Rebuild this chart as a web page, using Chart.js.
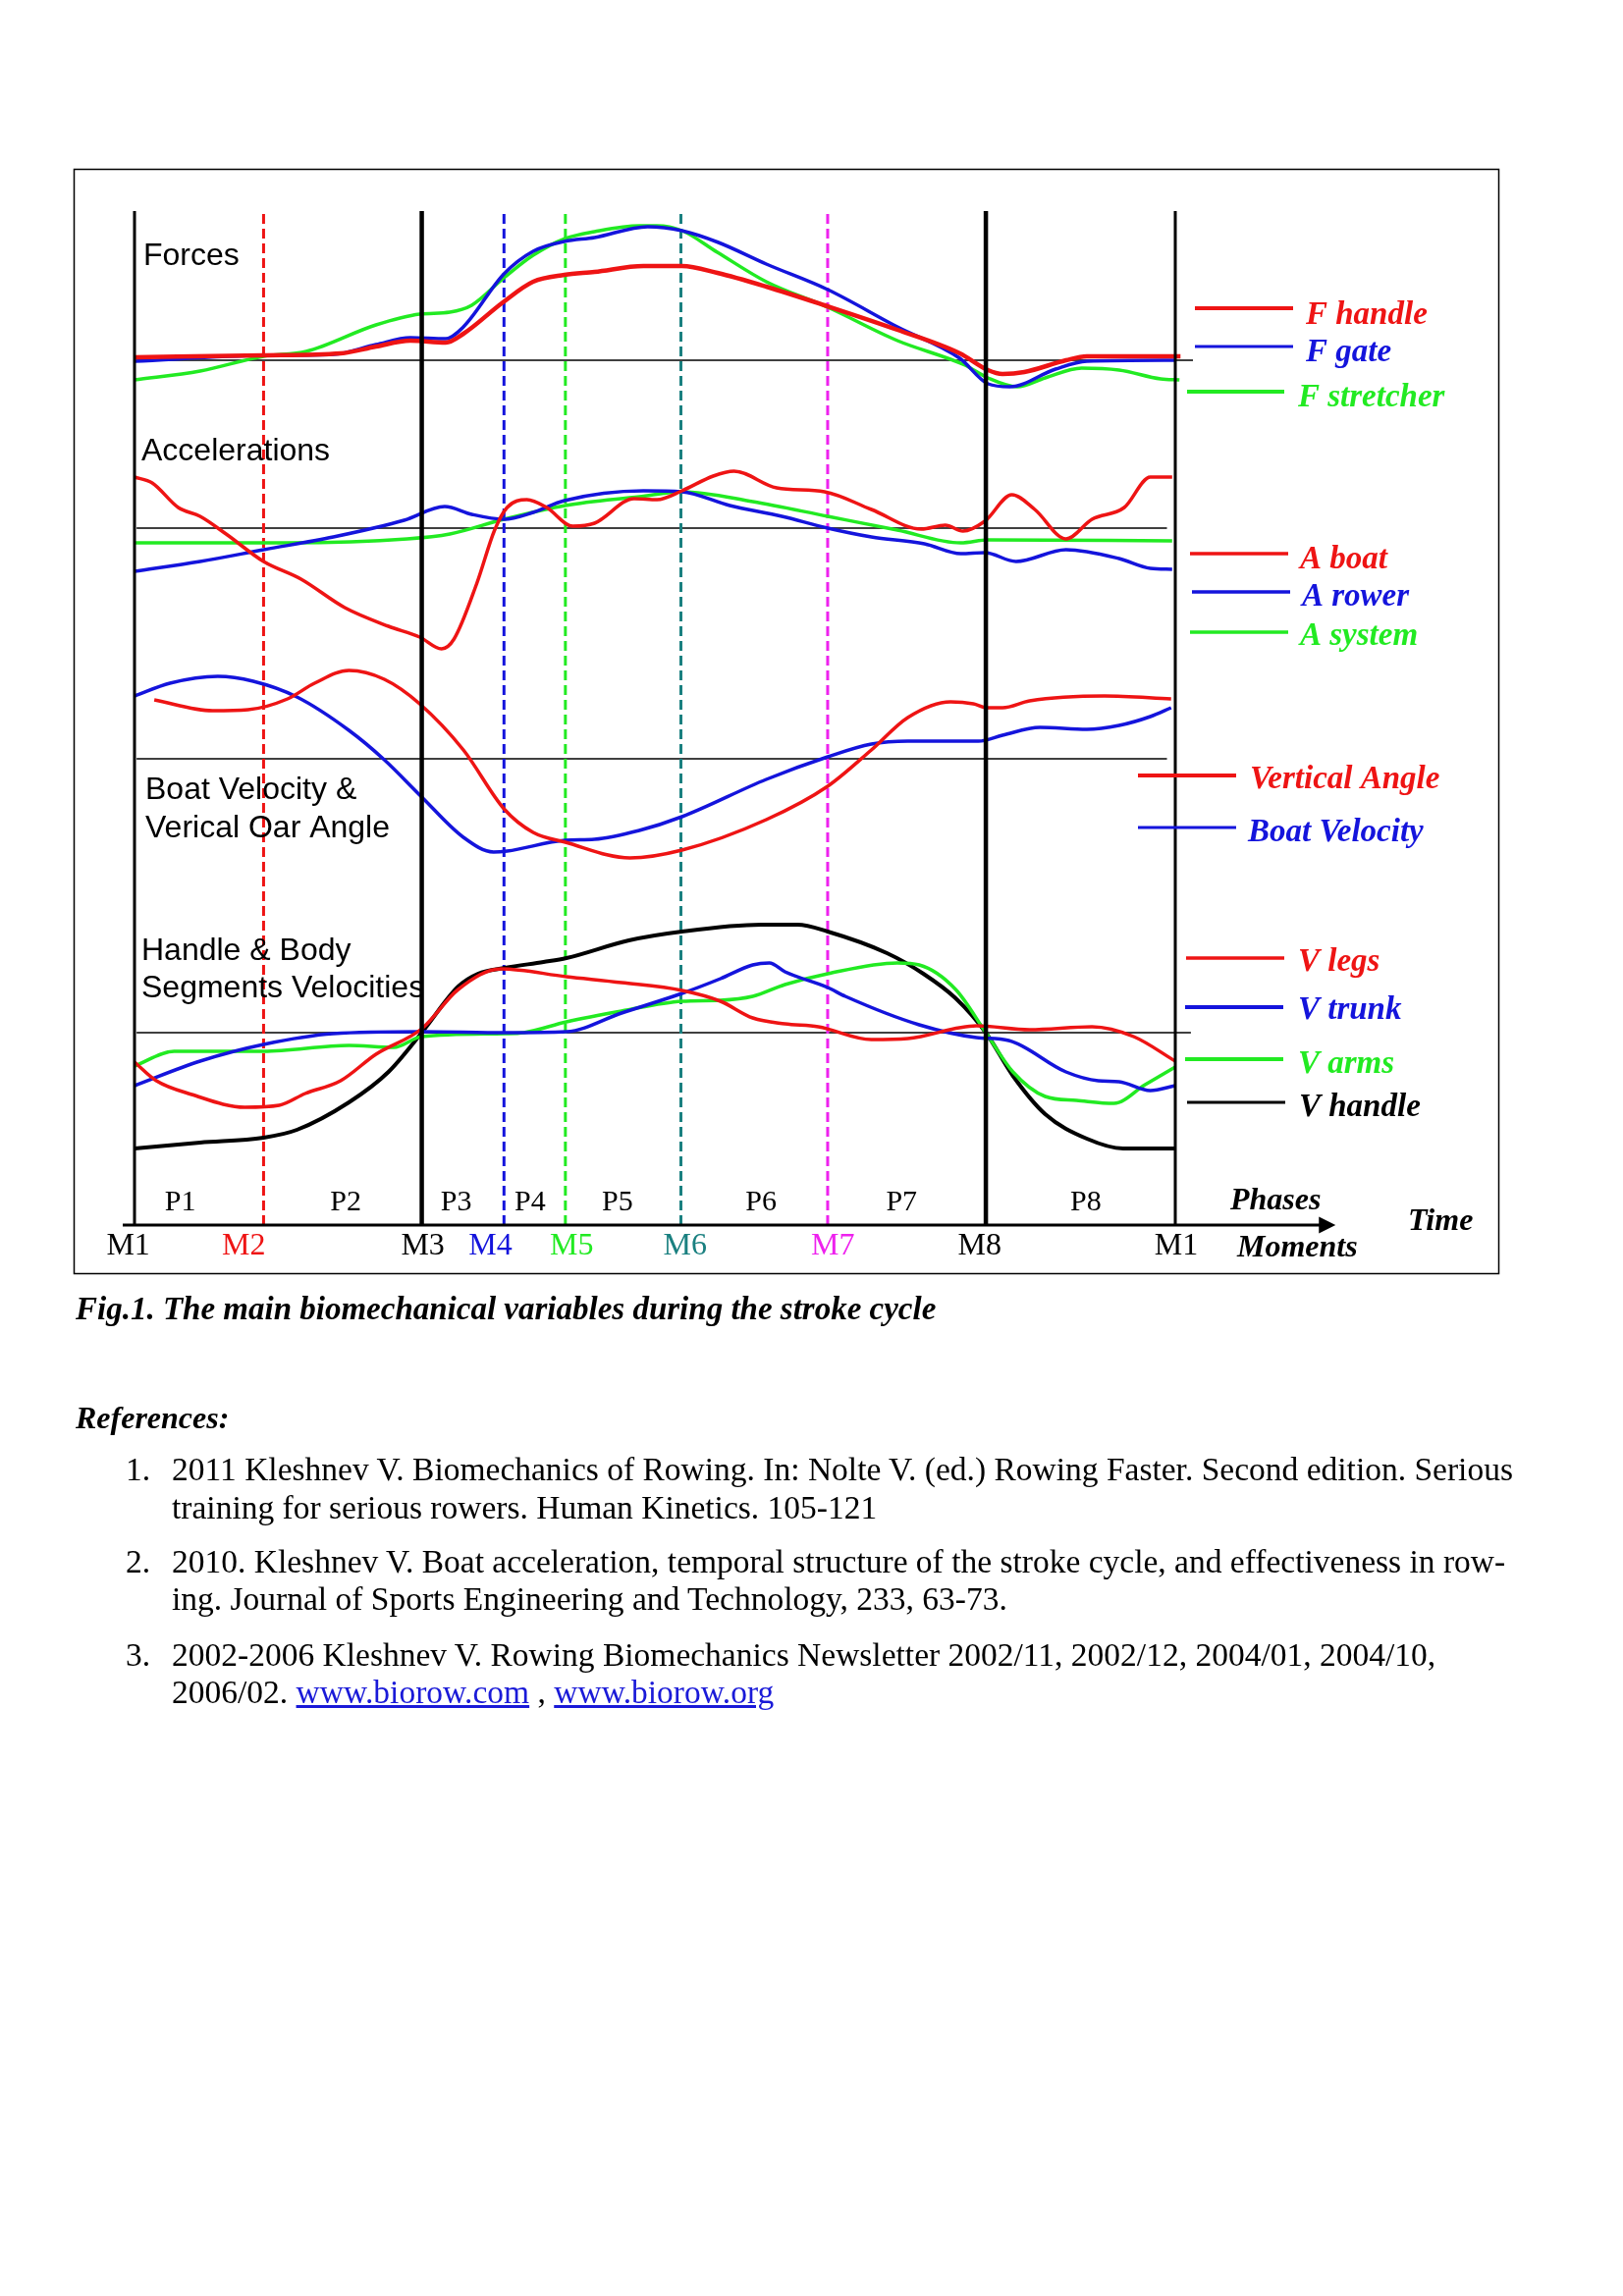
<!DOCTYPE html>
<html lang="en">
<head>
<meta charset="utf-8">
<script src="https://cdn.jsdelivr.net/npm/chart.js"></script>
<style>
  body { margin: 0; background: #fff; }
  #page { position: relative; width: 1653px; height: 2339px; overflow: hidden; background: #fff; }
  #chart { position: absolute; left: 0; top: 0; }
  .txt { position: absolute; white-space: nowrap; font-family: 'Liberation Serif', 'Times New Roman', serif; color: #000; line-height: 1; font-size: 33.5px; }
  .bi { font-weight: bold; font-style: italic; }
  .txt a { color: #1a1ad8; text-decoration: underline; }
</style>
</head>
<body>
<div id="page">
  <canvas id="chart" width="1653" height="2339"></canvas>

  <div class="txt bi" style="left:77px; top:1317px; font-size:33px;">Fig.1. The main biomechanical variables during the stroke cycle</div>
  <div class="txt bi" style="left:77px; top:1428px; font-size:32px;">References:</div>

  <div class="txt" style="left:128px; top:1480px;">1.</div>
  <div class="txt" style="left:175px; top:1480px;">2011 Kleshnev V. Biomechanics of Rowing. In: Nolte V. (ed.) Rowing Faster. Second edition. Serious</div>
  <div class="txt" style="left:175px; top:1519px;">training for serious rowers. Human Kinetics. 105-121</div>

  <div class="txt" style="left:128px; top:1574px;">2.</div>
  <div class="txt" style="left:175px; top:1574px;">2010. Kleshnev V. Boat acceleration, temporal structure of the stroke cycle, and effectiveness in row-</div>
  <div class="txt" style="left:175px; top:1612px;">ing. Journal of Sports Engineering and Technology, 233, 63-73.</div>

  <div class="txt" style="left:128px; top:1669px;">3.</div>
  <div class="txt" style="left:175px; top:1669px;">2002-2006 Kleshnev V. Rowing Biomechanics Newsletter 2002/11, 2002/12, 2004/01, 2004/10,</div>
  <div class="txt" style="left:175px; top:1707px;">2006/02. <a>www.biorow.com</a> , <a>www.biorow.org</a></div>
</div>

<script>
// time in % of the stroke cycle, values in arbitrary units from each panel's zero line
const moments = ['M1', 'M2', 'M3', 'M4', 'M5', 'M6', 'M7', 'M8', 'M1'];
const momentT = [0, 12.4, 27.6, 35.5, 41.4, 52.5, 66.6, 81.8, 100];
const momentLabelT = [-0.6, 10.5, 27.7, 34.2, 42.0, 52.9, 67.1, 81.2, 100.1];
const phases = ['P1', 'P2', 'P3', 'P4', 'P5', 'P6', 'P7', 'P8'];
const phaseLabelT = [4.4, 20.3, 30.9, 38.0, 46.4, 60.2, 73.7, 91.4];

const fHandle = [[0,3],[12.4,5],[19.8,7],[23.2,14],[26.5,20],[29.9,18],[31.6,27],[35.4,59],[38.3,80],[41.3,87],[44.2,90],[48.9,96],[52.6,96],[56,89],[60.7,75],[66.3,56],[73.3,31],[79.3,7],[82,-10],[83.4,-14],[85.5,-12],[89.5,0],[91.5,4],[100.5,4]];
const fGate = [[0,-1],[12.4,5],[19.1,6],[23.2,16],[26.5,23],[29.9,22],[31.6,34],[35.5,88],[38.3,111],[41.3,121],[44.2,125],[49.3,136],[52.6,132],[56.1,120],[60.7,98],[66.6,72],[73.3,34],[79.3,2],[82,-24],[84.1,-27],[88.5,-9],[91.5,-1],[100,0]];
const fStretcher = [[0,-20],[6.3,-11],[12.4,4],[16.5,9],[23.2,36],[27.4,47],[30.3,49],[32.4,56],[35.5,84],[38.3,107],[41.4,124],[44.2,131],[48.5,137],[50.2,137],[52.6,132],[56,110],[60.7,80],[66.6,54],[73.3,20],[79.8,-5],[82,-18],[84.8,-27],[87.5,-18],[91,-8],[94.6,-10],[98.6,-19],[100.4,-20]];

const aBoat = [[0,52],[1.7,46],[4.2,21],[6.3,12],[8.8,-6],[12.4,-34],[16,-52],[20.2,-81],[24.4,-100],[27.4,-111],[29.5,-123],[30.7,-113],[32.9,-56],[34.6,-2],[35.8,21],[37.7,29],[39.6,21],[42.1,2],[44.2,5],[48,30],[50.2,29],[52.6,38],[55.6,53],[57.6,58],[61.7,41],[66.3,37],[70.8,19],[75.6,-1],[77.9,3],[79.6,-3],[81.7,7],[84.3,34],[86.5,19],[89.5,-11],[92,9],[95.1,21],[97.6,52],[99.7,52]];
const aRower = [[0,-44],[6.3,-34],[12.4,-22],[19.1,-9],[25.9,8],[29.8,22],[32.4,14],[35.5,9],[38.3,16],[41.3,28],[48.9,38],[52.6,37],[57.2,23],[62.2,12],[66.6,0],[70.8,-9],[75.9,-16],[79.4,-26],[81.7,-25],[84.7,-34],[89.5,-22],[94.6,-31],[97.6,-41],[99.7,-42]];
const aSystem = [[0,-15],[14.7,-15],[26.2,-11],[30.3,-6],[35.5,9],[41.4,23],[48.5,32],[52.6,37],[59.4,27],[66.6,12],[73.3,-2],[79.4,-15],[82,-12],[99.7,-13]];

const vertAngle = [[1.9,60],[7.5,49],[10.9,50],[14.7,61],[17.3,77],[20.6,90],[24,81],[27.4,56],[31.6,9],[35.5,-51],[38.3,-75],[41.4,-85],[47.6,-101],[52.6,-93],[60.7,-62],[66.6,-28],[70.8,9],[74.3,42],[78.4,58],[80.6,56],[81.9,52],[83.4,52],[86,59],[93.2,64],[99.6,61]];
const boatVel = [[0,64],[3.4,77],[8,84],[11.4,79],[15.6,63],[20.6,29],[24,-1],[27.6,-39],[31.6,-80],[34.5,-95],[35.8,-94],[41.4,-83],[44.2,-82],[48.5,-73],[52.6,-59],[60.7,-21],[66.6,2],[70.8,15],[74.3,18],[81.1,18],[83.4,24],[87,32],[91.5,30],[94.6,34],[97.6,43],[99.6,52]];

const vLegs = [[0,-30],[2.1,-49],[5.5,-63],[10.6,-76],[13.9,-74],[16.4,-62],[19.8,-49],[23.2,-22],[27.6,4],[31.1,44],[35.2,65],[41.5,57],[46.8,51],[52.6,43],[56.3,32],[59.4,15],[62.5,9],[65.7,6],[70.8,-7],[74.3,-6],[80.9,7],[86,3],[92,6],[96,-4],[100,-29]];
const vTrunk = [[0,-54],[6.3,-29],[12.4,-12],[19.1,-1],[27.6,1],[35.6,0],[41.5,1],[46.8,20],[52.6,40],[56.3,55],[59.4,69],[61,71],[62.5,62],[66.6,46],[68.3,37],[75.4,8],[80.9,-5],[84,-8],[89.5,-40],[92.6,-49],[94.6,-50],[97.6,-59],[100,-54]];
const vArms = [[0,-34],[3.8,-19],[12.4,-19],[20.6,-13],[24.9,-15],[27.6,-4],[35.6,-1],[37.4,0],[41.5,11],[46.8,22],[52.6,32],[56.3,33],[59.4,37],[62.5,49],[66.6,60],[73.3,71],[75.4,69],[78.9,44],[81.8,0],[84.4,-40],[87.5,-65],[90.5,-69],[94.1,-72],[97.1,-53],[100,-35]];
const vHandle = [[0,-118],[6.3,-112],[12.4,-107],[15.6,-99],[20.6,-71],[24.4,-40],[27.6,0],[31.1,47],[33,60],[35.6,66],[39.3,72],[41.5,76],[47.5,94],[52.6,103],[60.2,110],[63.7,110],[66.6,103],[72.3,81],[75.8,60],[78.9,35],[81.8,0],[84.4,-44],[87.5,-83],[91.5,-108],[95,-118],[100,-118]];

// layout
const PLOT = { left: 137, right: 1197, top: 215, bottom: 1248 };
const panelZero = { yF: 367, yA: 538, yV: 773, yH: 1052 };
const baselineEnd = { yF: 101.7, yA: 99.2, yV: 99.2, yH: 101.5 };

const RED = '#ee1414', BLUE = '#1414dc', GREEN = '#22ea22', BLACK = '#000';
const momentColors = [BLACK, RED, BLACK, BLUE, GREEN, '#1a8080', '#ee22ee', BLACK, BLACK];
const momentWidth = [3, 3, 4.5, 3, 3, 3, 3, 4.5, 3];
const momentDashed = [false, true, false, true, true, true, true, false, false];

const pts = arr => arr.map(([t, v]) => ({ x: t, y: v }));

function curve(label, data, color, axis, width) {
  return {
    label, data: pts(data), yAxisID: axis, borderColor: color, borderWidth: width,
    pointRadius: 0, cubicInterpolationMode: 'monotone', fill: false, order: 1, clip: false
  };
}

const datasets = [
  curve('F handle', fHandle, RED, 'yF', 4.5),
  curve('F gate', fGate, BLUE, 'yF', 3.5),
  curve('F stretcher', fStretcher, GREEN, 'yF', 3.5),
  curve('A boat', aBoat, RED, 'yA', 3.5),
  curve('A rower', aRower, BLUE, 'yA', 3.5),
  curve('A system', aSystem, GREEN, 'yA', 3.5),
  curve('Vertical Angle', vertAngle, RED, 'yV', 3.5),
  curve('Boat Velocity', boatVel, BLUE, 'yV', 3.5),
  curve('V legs', vLegs, RED, 'yH', 3.5),
  curve('V trunk', vTrunk, BLUE, 'yH', 3.5),
  curve('V arms', vArms, GREEN, 'yH', 3.5),
  curve('V handle', vHandle, BLACK, 'yH', 4)
];

momentT.forEach((t, i) => {
  datasets.push({
    label: moments[i], data: [{ x: t, y: 0 }, { x: t, y: 1 }], yAxisID: 'frame',
    borderColor: momentColors[i], borderWidth: momentWidth[i],
    borderDash: momentDashed[i] ? [10, 5] : [], pointRadius: 0,
    order: momentDashed[i] ? 2 : 0, clip: false
  });
});

Object.keys(panelZero).forEach(id => {
  datasets.push({
    label: 'zero ' + id, data: [{ x: 0.2, y: 0 }, { x: baselineEnd[id], y: 0 }], yAxisID: id,
    borderColor: '#000', borderWidth: 1.3, pointRadius: 0, order: 3, clip: false
  });
});

const scales = {
  x: { type: 'linear', min: 0, max: 100, display: false },
  frame: { type: 'linear', min: 0, max: 1, display: false }
};
Object.keys(panelZero).forEach(id => {
  scales[id] = { type: 'linear', display: false,
    min: panelZero[id] - PLOT.bottom, max: panelZero[id] - PLOT.top };
});

const titles = [
  ['Forces', 146, 270], ['Accelerations', 144, 469],
  ['Boat Velocity &', 148, 814], ['Verical Oar Angle', 148, 853],
  ['Handle & Body', 144, 978], ['Segments Velocities', 144, 1016]
];
// [text, color, line x0, line x1, line y, line width, text x, text baseline]
const legendItems = [
  ['F handle', RED, 1217, 1317, 314, 4, 1330, 330],
  ['F gate', BLUE, 1217, 1317, 353, 3, 1330, 368],
  ['F stretcher', GREEN, 1209, 1308, 399, 4, 1322, 414],
  ['A boat', RED, 1212, 1312, 564, 3.5, 1324, 579],
  ['A rower', BLUE, 1214, 1314, 603, 3.5, 1326, 617],
  ['A system', GREEN, 1212, 1312, 644, 3.5, 1324, 657],
  ['Vertical Angle', RED, 1159, 1259, 790, 4, 1273, 803],
  ['Boat Velocity', BLUE, 1159, 1259, 843, 3, 1271, 857],
  ['V legs', RED, 1208, 1308, 976, 3.5, 1322, 989],
  ['V trunk', BLUE, 1207, 1307, 1026, 4, 1322, 1038],
  ['V arms', GREEN, 1207, 1307, 1079, 4, 1322, 1093],
  ['V handle', BLACK, 1209, 1309, 1123, 3, 1323, 1137]
];

const overlay = {
  id: 'overlay',
  beforeDraw(chart) {
    const ctx = chart.ctx;
    ctx.save();
    ctx.fillStyle = '#fff';
    ctx.fillRect(0, 0, chart.width, chart.height);
    ctx.strokeStyle = '#000';
    ctx.lineWidth = 1.5;
    ctx.strokeRect(75.5, 172.5, 1451, 1125);
    ctx.restore();
  },
  afterDraw(chart) {
    const ctx = chart.ctx, xs = chart.scales.x;
    const y0 = chart.chartArea.bottom;
    ctx.save();
    // time axis with arrow
    ctx.strokeStyle = '#000';
    ctx.fillStyle = '#000';
    ctx.lineWidth = 3;
    ctx.beginPath();
    ctx.moveTo(xs.getPixelForValue(-1.13), y0);
    ctx.lineTo(xs.getPixelForValue(114), y0);
    ctx.stroke();
    const tip = xs.getPixelForValue(115.4);
    ctx.beginPath();
    ctx.moveTo(tip, y0);
    ctx.lineTo(tip - 17, y0 - 8.5);
    ctx.lineTo(tip - 17, y0 + 8.5);
    ctx.closePath();
    ctx.fill();

    ctx.textAlign = 'center';
    ctx.textBaseline = 'alphabetic';
    ctx.font = '30px "Liberation Serif"';
    phases.forEach((p, i) => ctx.fillText(p, xs.getPixelForValue(phaseLabelT[i]), 1233));
    ctx.font = '32px "Liberation Serif"';
    moments.forEach((m, i) => {
      ctx.fillStyle = momentColors[i];
      ctx.fillText(m, xs.getPixelForValue(momentLabelT[i]), 1278);
    });

    ctx.fillStyle = '#000';
    ctx.textAlign = 'left';
    ctx.font = 'bold italic 32px "Liberation Serif"';
    ctx.fillText('Phases', 1253, 1232);
    ctx.fillText('Moments', 1260, 1280);
    ctx.fillText('Time', 1434, 1253);

    ctx.font = '32px "Liberation Sans"';
    titles.forEach(([t, x, y]) => ctx.fillText(t, x, y));

    ctx.font = 'bold italic 33px "Liberation Serif"';
    legendItems.forEach(([txt, col, x0, x1, ly, lw, tx, ty]) => {
      ctx.strokeStyle = col;
      ctx.lineWidth = lw;
      ctx.beginPath();
      ctx.moveTo(x0, ly);
      ctx.lineTo(x1, ly);
      ctx.stroke();
      ctx.fillStyle = col;
      ctx.fillText(txt, tx, ty);
    });
    ctx.restore();
  }
};

new Chart(document.getElementById('chart'), {
  type: 'line',
  data: { datasets },
  options: {
    responsive: false,
    animation: false,
    devicePixelRatio: 1,
    parsing: true,
    layout: { padding: { left: PLOT.left, right: 1653 - PLOT.right, top: PLOT.top, bottom: 2339 - PLOT.bottom } },
    scales,
    plugins: { legend: { display: false }, tooltip: { enabled: false } },
    events: []
  },
  plugins: [overlay]
});
</script>
</body>
</html>
